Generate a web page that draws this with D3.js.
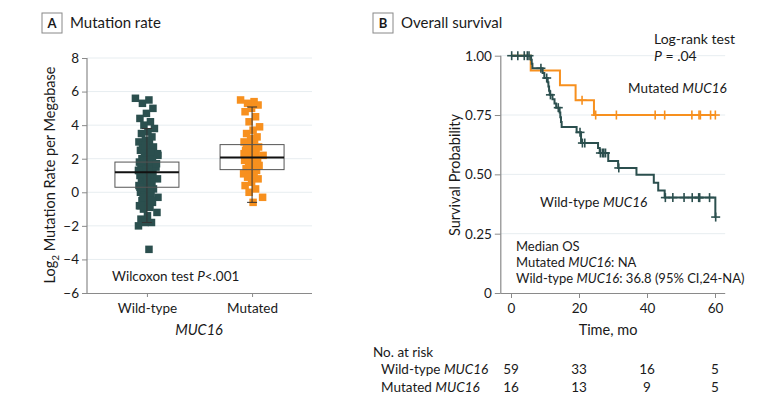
<!DOCTYPE html>
<html><head><meta charset="utf-8">
<script src="https://cdn.jsdelivr.net/npm/d3@7"></script>
<style>
body{margin:0;background:#fff;}
svg text{font-family:Lato,"Open Sans",sans-serif;fill:#1a1a1a;}
</style></head>
<body><svg id="c" width="780" height="405"></svg>
<script>
// ---------- DATA ----------
const groupsA = ["Wild-type", "Mutated"];
const wildTypeRates = [5.6,5.5,5.3,5.0,4.7,4.4,4.2,4.0,3.8,3.6,3.5,3.3,3.1,3.0,2.9,2.8,2.7,2.6,2.5,2.4,2.3,2.2,2.1,2.0,2.0,1.9,1.8,1.8,1.7,1.6,1.6,1.5,1.4,1.4,1.3,1.2,1.2,1.1,1.0,1.0,0.9,0.8,0.8,0.7,0.6,0.6,0.5,0.4,0.4,0.3,0.2,0.1,0.0,-0.1,-0.2,-0.3,-0.4,-0.5,-0.6,-0.7,-0.8,-0.9,-1.0,-1.2,-1.4,-1.6,-1.8,-1.8,-2.0,-3.4,2.6,1.5,0.9,0.3,-0.1,1.9,2.3,0.6,1.1,-0.5,2.8,1.3,0.2,-0.3,1.7,0.7,-0.8,2.4];
const mutatedRates = [5.5,5.4,5.3,5.2,5.0,4.8,4.5,4.2,3.9,3.7,3.5,3.3,3.2,3.0,2.9,2.8,2.7,2.6,2.5,2.4,2.3,2.2,2.2,2.1,2.0,2.0,1.9,1.8,1.7,1.6,1.5,1.4,1.3,1.2,1.1,1.0,0.9,0.8,0.6,0.4,0.2,0.0,-0.3,-0.6,2.6,1.9,1.4,2.3];
// box stats: [whiskerLow, q1, median, q3, whiskerHigh]
const wildTypeBox = [-1.8, 0.3, 1.2, 1.8, 3.8];
const mutatedBox = [-0.6, 1.35, 2.07, 2.84, 5.08];
const yTicksA = [-6,-4,-2,0,2,4,6,8];

// KM step curves: [time, survival]
const wildTypeSteps = [[0,1],[5.9,0.983],[6.1,0.966],[6.3,0.947],[9.3,0.927],[9.8,0.906],[10.8,0.888],[11.0,0.870],[11.2,0.852],[11.4,0.835],[12.2,0.817],[12.8,0.799],[13.3,0.781],[14.3,0.761],[14.5,0.741],[14.7,0.721],[14.9,0.700],[19.3,0.677],[20.6,0.632],[25.6,0.611],[26.1,0.590],[28.6,0.556],[31.5,0.527],[36.9,0.498],[42.0,0.465],[43.3,0.432],[45.2,0.402],[60.1,0.320]];
const wildTypeCensor = [0.2,2.0,3.9,4.8,5.3,8.8,10.5,11.6,13.9,20.3,21.0,21.7,26.3,26.9,27.3,27.8,31.7,45.4,47.6,50.9,53.3,55.2,55.5,58.4,60.2];
const mutatedSteps = [[0,1],[5.8,0.9375],[14.4,0.875],[19.0,0.8125],[24.4,0.75]];
const mutatedCensor = [20.9,24.9,31.0,42.4,45.2,53.2,55.3,55.7,58.7,60.1];
const xTicksB = [0,20,40,60];
const yTicksB = [0,0.25,0.5,0.75,1.0];
const riskTimes = [0,20,40,60];
const riskWildType = [59,33,16,5];
const riskMutated = [16,13,9,5];

// ---------- STYLE ----------
const GREEN = "#2b4f4e", ORANGE = "#f7901e", GRID = "#e7edf0", AXIS = "#8a8a8a";
const svg = d3.select("#c");

function header(x, y, letter, title){
  svg.append("rect").attr("x",x).attr("y",y).attr("width",20).attr("height",20)
    .attr("fill","#fff").attr("stroke","#888").attr("stroke-width",1);
  svg.append("text").attr("x",x+10).attr("y",y+15).attr("text-anchor","middle")
    .attr("font-size",13).attr("font-weight","bold").text(letter);
  svg.append("text").attr("x",x+28).attr("y",y+14.5).attr("font-size",15).text(title);
}
header(42,13,"A","Mutation rate");
header(373,13,"B","Overall survival");

// ---------- PANEL A ----------
const yA = d3.scaleLinear().domain([-6,8]).range([293,58]);
const xA = d3.scalePoint().domain(groupsA).range([87,312]).padding(0.57);
const gA = svg.append("g");
gA.selectAll("line.grid").data(yTicksA.filter(d=>d>-6)).join("line")
  .attr("x1",87).attr("x2",312).attr("y1",d=>yA(d)).attr("y2",d=>yA(d))
  .attr("stroke",GRID).attr("stroke-width",1);
const axYA = gA.append("g").attr("transform","translate(87,0)")
  .call(d3.axisLeft(yA).tickValues(yTicksA).tickSize(5).tickPadding(3).tickFormat(d=>d<0?"\u2212"+(-d):d));
const axXA = gA.append("g").attr("transform","translate(0,293)")
  .call(d3.axisBottom(xA).tickSize(4).tickPadding(6));
[axYA, axXA].forEach(a=>{
  a.select(".domain").attr("stroke",AXIS).attr("stroke-width",1.2);
  a.selectAll(".tick line").attr("stroke",AXIS);
  a.selectAll("text").attr("font-size",13.5).attr("fill","#1a1a1a").attr("font-family","Lato,'Open Sans',sans-serif");
});
axXA.select(".domain").attr("d","M87,0.5H312");
axYA.select(".domain").attr("d","M-0,"+yA(8)+"V"+yA(-6));

function jitter(i){ return (((i*0.6180339887)%1)-0.5)*20 + (((i*0.38)%1)-0.5)*3; }
const sq = 7.5;
function drawPoints(vals, grp, col){
  gA.append("g").selectAll("rect").data(vals).join("rect")
    .attr("x",(d,i)=>xA(grp)+jitter(i)-sq/2).attr("y",d=>yA(d)-sq/2)
    .attr("width",sq).attr("height",sq).attr("fill",col);
}
drawPoints(wildTypeRates,"Wild-type",GREEN);
drawPoints(mutatedRates,"Mutated",ORANGE);

function drawBox(b, grp){
  const cx = xA(grp), w = 64, g = gA.append("g").attr("stroke","#333").attr("fill","none");
  g.append("line").attr("x1",cx).attr("x2",cx).attr("y1",yA(b[0])).attr("y2",yA(b[4])).attr("stroke-width",1);
  [b[0],b[4]].forEach(v=>g.append("line").attr("x1",cx-5).attr("x2",cx+5).attr("y1",yA(v)).attr("y2",yA(v)));
  g.append("rect").attr("x",cx-w/2).attr("y",yA(b[3])).attr("width",w).attr("height",yA(b[1])-yA(b[3])).attr("stroke-width",1).attr("stroke","#555");
  g.append("line").attr("x1",cx-w/2).attr("x2",cx+w/2).attr("y1",yA(b[2])).attr("y2",yA(b[2])).attr("stroke-width",2).attr("stroke","#111");
}
drawBox(wildTypeBox,"Wild-type");
drawBox(mutatedBox,"Mutated");

const wt = gA.append("text").attr("x",112).attr("y",281).attr("font-size",13.5);
wt.append("tspan").text("Wilcoxon test  ");
wt.append("tspan").attr("font-style","italic").text("P");
wt.append("tspan").text("<.001");
gA.append("text").attr("x",199).attr("y",335).attr("text-anchor","middle").attr("font-size",14.5).attr("font-style","italic").text("MUC16");
const yl = gA.append("text").attr("transform","translate(55,175) rotate(-90)").attr("text-anchor","middle").attr("font-size",14.5);
yl.append("tspan").text("Log");
yl.append("tspan").attr("font-size",10).attr("dy",4).text("2");
yl.append("tspan").attr("dy",-4).text(" Mutation Rate per Megabase");

// ---------- PANEL B ----------
const xB = d3.scaleLinear().domain([-3,63]).range([500.8,725.2]);
const yB = d3.scaleLinear().domain([0,1]).range([293,55.7]);
const gB = svg.append("g");
gB.selectAll("line.grid").data(yTicksB.filter(d=>d>0)).join("line")
  .attr("x1",xB(-3)).attr("x2",xB(63)).attr("y1",d=>yB(d)).attr("y2",d=>yB(d))
  .attr("stroke",GRID).attr("stroke-width",1);
const axYB = gB.append("g").attr("transform","translate("+xB(-3)+",0)")
  .call(d3.axisLeft(yB).tickValues(yTicksB).tickSize(6).tickPadding(3).tickFormat(d=>d===0?"0":d3.format(".2f")(d)));
const axXB = gB.append("g").attr("transform","translate(0,293)")
  .call(d3.axisBottom(xB).tickValues(xTicksB).tickSize(5).tickPadding(5));
[axYB, axXB].forEach(a=>{
  a.select(".domain").attr("stroke",AXIS).attr("stroke-width",1.2);
  a.selectAll(".tick line").attr("stroke",AXIS);
  a.selectAll("text").attr("font-size",13.5).attr("fill","#1a1a1a").attr("font-family","Lato,'Open Sans',sans-serif");
});
axYB.select(".domain").attr("d","M0,"+yB(1)+"V"+yB(0));
axXB.select(".domain").attr("d","M"+xB(-3)+",0.5H"+xB(63));

function survAt(steps,t){ let s=1; steps.forEach(p=>{ if(p[0]<=t) s=p[1]; }); return s; }
function drawKM(steps, censor, col){
  const end = Math.max(steps[steps.length-1][0], d3.max(censor));
  const pts = steps.concat([[end, steps[steps.length-1][1]]]);
  const line = d3.line().x(d=>xB(d[0])).y(d=>yB(d[1])).curve(d3.curveStepAfter);
  gB.append("path").datum(pts).attr("d",line).attr("fill","none").attr("stroke",col).attr("stroke-width",2);
  const g = gB.append("g").attr("stroke",col).attr("stroke-width",1.6);
  censor.forEach(t=>{
    const x = xB(t), y = yB(survAt(steps,t));
    g.append("line").attr("x1",x).attr("x2",x).attr("y1",y-4.5).attr("y2",y+4.5);
    g.append("line").attr("x1",x-4.5).attr("x2",x+4.5).attr("y1",y).attr("y2",y);
  });
}
drawKM(mutatedSteps, mutatedCensor, ORANGE);
drawKM(wildTypeSteps, wildTypeCensor, GREEN);

gB.append("text").attr("x",654).attr("y",44).attr("font-size",14).text("Log-rank test");
const pv = gB.append("text").attr("x",654).attr("y",60.5).attr("font-size",14);
pv.append("tspan").attr("font-style","italic").text("P");
pv.append("tspan").text(" = .04");
const mu = gB.append("text").attr("x",628).attr("y",93).attr("font-size",13.5);
mu.append("tspan").text("Mutated ");
mu.append("tspan").attr("font-style","italic").text("MUC16");
const wl = gB.append("text").attr("x",540).attr("y",207).attr("font-size",13.5);
wl.append("tspan").text("Wild-type ");
wl.append("tspan").attr("font-style","italic").text("MUC16");

gB.append("text").attr("x",516).attr("y",251).attr("font-size",13).text("Median OS");
const m1 = gB.append("text").attr("x",516).attr("y",267).attr("font-size",13);
m1.append("tspan").text("Mutated ");
m1.append("tspan").attr("font-style","italic").text("MUC16");
m1.append("tspan").text(": NA");
const m2 = gB.append("text").attr("x",516).attr("y",283).attr("font-size",13);
m2.append("tspan").text("Wild-type ");
m2.append("tspan").attr("font-style","italic").text("MUC16");
m2.append("tspan").text(": 36.8 (95% CI,24-NA)");

gB.append("text").attr("x",608).attr("y",335).attr("text-anchor","middle").attr("font-size",14.5).text("Time, mo");
gB.append("text").attr("transform","translate(460,175) rotate(-90)").attr("text-anchor","middle").attr("font-size",14.5).text("Survival Probability");

// risk table
gB.append("text").attr("x",373).attr("y",357).attr("font-size",13.5).text("No. at risk");
function riskRow(label, vals, y){
  const t = gB.append("text").attr("x",381).attr("y",y).attr("font-size",13.5);
  t.append("tspan").text(label+" ");
  t.append("tspan").attr("font-style","italic").text("MUC16");
  gB.append("g").selectAll("text").data(vals).join("text")
    .attr("x",(d,i)=>xB(riskTimes[i])).attr("y",y).attr("text-anchor","middle").attr("font-size",13.5).text(d=>d);
}
riskRow("Wild-type", riskWildType, 374);
riskRow("Mutated", riskMutated, 392);
</script></body></html>
